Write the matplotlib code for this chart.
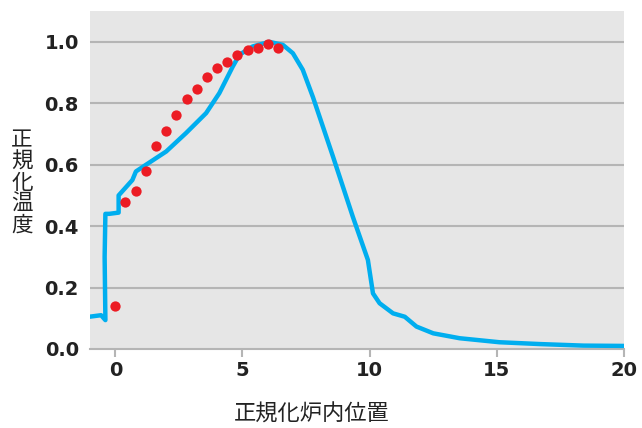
import numpy as np
import matplotlib
matplotlib.use("Agg")
import matplotlib.pyplot as plt

plt.rcParams['font.family'] = ['Noto Sans CJK JP', 'DejaVu Sans']

# 计算曲线 (蓝线)
line_x = [-1.02, -0.56, -0.39, -0.42, -0.39, -0.24, 0.13, 0.13, 0.67, 0.81, 1.21, 2.0, 2.78,
          3.57, 4.09, 4.62, 4.88, 5.4, 6.06, 6.59, 6.98, 7.37, 7.77, 8.56, 9.34, 9.93,
          10.13, 10.39, 10.92, 11.38, 11.84, 12.5, 13.54, 15.1, 16.7, 18.4, 20.0]
line_y = [0.105, 0.11, 0.094, 0.3, 0.44, 0.44, 0.444, 0.50, 0.55, 0.578, 0.60, 0.643, 0.703,
          0.768, 0.833, 0.92, 0.958, 0.985, 1.0, 0.99, 0.963, 0.909, 0.82, 0.626, 0.43, 0.29,
          0.181, 0.149, 0.116, 0.105, 0.073, 0.051, 0.035, 0.022, 0.016, 0.011, 0.01]

# 実測値 (赤点)
dot_x = [0.0, 0.4, 0.8, 1.2, 1.6, 2.0, 2.4, 2.8, 3.2, 3.6, 4.0, 4.4, 4.8, 5.2, 5.6, 6.0, 6.4]
dot_y = [0.14, 0.48, 0.515, 0.58, 0.661, 0.711, 0.762, 0.814, 0.847, 0.885, 0.914,
         0.934, 0.958, 0.972, 0.981, 0.992, 0.981]

x_ticks = [0, 5, 10, 15, 20]
y_ticks = [0.0, 0.2, 0.4, 0.6, 0.8, 1.0]

fig = plt.figure(figsize=(6.42, 4.28), dpi=100)
ax = fig.add_axes([0.140, 0.1846, 0.832, 0.7894])
ax.set_facecolor('#e6e6e6')

ax.plot(line_x, line_y, color='#00aeef', lw=3.2, solid_joinstyle='round', zorder=3)
ax.scatter(dot_x, dot_y, s=55, color='#ec1c24', zorder=4, linewidths=0)

ax.set_xlim(-1, 20)
ax.set_ylim(0, 1.1)
ax.set_xticks(x_ticks)
ax.set_yticks(y_ticks)
ax.set_yticklabels(['%.1f' % v for v in y_ticks])

for v in y_ticks[1:]:
    ax.axhline(v, color='#b5b5b5', lw=1.5, zorder=1)

for s in ['top', 'right', 'left']:
    ax.spines[s].set_visible(False)
ax.spines['bottom'].set_color('#b5b5b5')
ax.spines['bottom'].set_linewidth(1.5)

ax.tick_params(axis='x', colors='#b5b5b5', length=6, width=1.5, labelcolor='#222222',
               labelsize=14, pad=3)
ax.tick_params(axis='y', length=0, labelcolor='#222222', labelsize=14, pad=8)
for lab in ax.get_xticklabels() + ax.get_yticklabels():
    lab.set_fontweight('bold')
    lab.set_family('DejaVu Sans')

fig.text(22 / 642, 1 - 183 / 428, '正\n規\n化\n温\n度', ha='center', va='center',
         fontsize=15.5, linespacing=0.95, color='#222222')
fig.text(312 / 642, 1 - 414 / 428, '正規化炉内位置', ha='center', va='center',
         fontsize=16, color='#222222')

fig.savefig('out.png', dpi=100)
